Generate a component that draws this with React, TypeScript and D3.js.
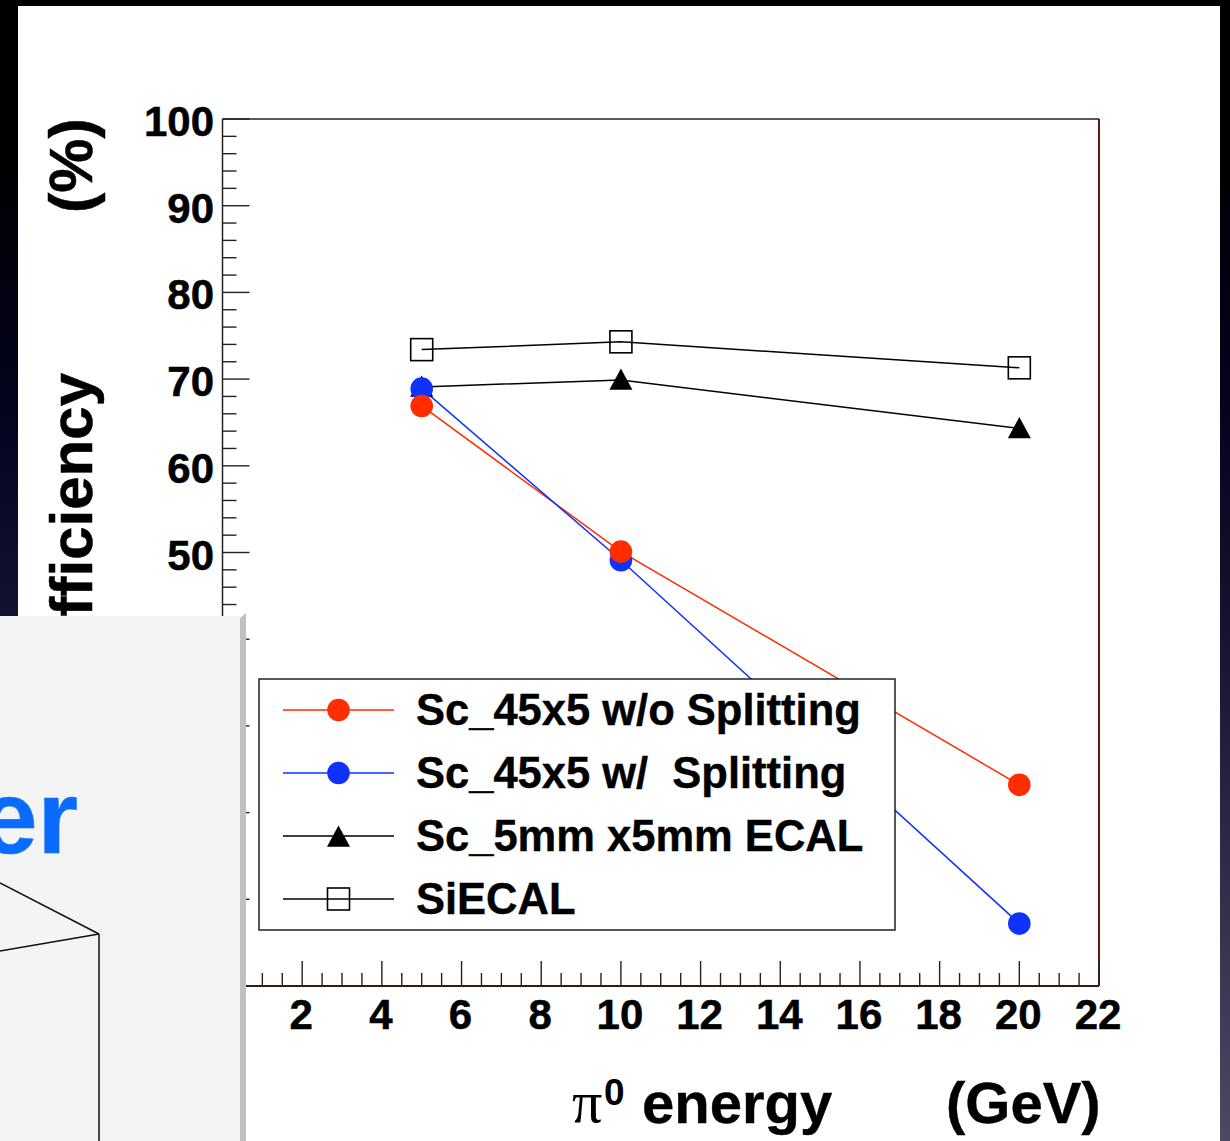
import React from "react";
import * as d3 from "d3";

const energies = [5, 10, 20];
const noSplit = [66.9, 50.1, 23.2];
const withSplit = [68.9, 49.1, 7.2];
const sc5mm = [69.1, 69.9, 64.3];
const siecal = [73.4, 74.3, 71.3];
const xTicks = [2, 4, 6, 8, 10, 12, 14, 16, 18, 20, 22];
const yTicks = [0, 10, 20, 30, 40, 50, 60, 70, 80, 90, 100];
const legendLabels = ["Sc_45x5 w/o Splitting", "Sc_45x5 w/  Splitting", "Sc_5mm x5mm ECAL", "SiECAL"];

const RED = "#ff2d00";
const BLUE = "#0f32ff";
const FONT = "'Liberation Sans', Arial, sans-serif";

const x = d3.scaleLinear().domain([0, 22]).range([222.5, 1099]);
const y = d3.scaleLinear().domain([0, 100]).range([986, 119]);

const line = d3
  .line<number>()
  .x((_, i) => x(energies[i]))
  .y((d) => y(d));

const triPath = (cx: number, cy: number, s = 11.5) =>
  `M${cx},${cy - s}L${cx + s},${cy + s * 0.85}L${cx - s},${cy + s * 0.85}Z`;

export default function App() {
  const xMinor = d3.range(0, 22.01, 0.5);
  const yMinor = d3.range(0, 100.01, 2);
  const legendY = [710, 773, 836, 899];
  const series = [
    { v: noSplit, c: RED, m: "c" },
    { v: withSplit, c: BLUE, m: "c" },
    { v: sc5mm, c: "#000", m: "t" },
    { v: siecal, c: "#000", m: "s" },
  ];
  const marker = (m: string, c: string, cx: number, cy: number, k: number) =>
    m === "c" ? (
      <circle key={k} cx={cx} cy={cy} r={11.3} fill={c} />
    ) : m === "t" ? (
      <path key={k} d={triPath(cx, cy)} fill="#000" />
    ) : (
      <rect key={k} x={cx - 11} y={cy - 11} width={22} height={22} fill="none" stroke="#000" strokeWidth={1.6} />
    );
  return (
    <svg
      width={1230}
      height={1141}
      viewBox="0 0 1230 1141"
      style={{ position: "absolute", left: 0, top: 0, display: "block" }}
      fontFamily={FONT}
    >
      <defs>
        <linearGradient id="bg" x1="0" y1="0" x2="0" y2="1">
          <stop offset="0" stopColor="#000000" />
          <stop offset="0.15" stopColor="#000004" />
          <stop offset="0.35" stopColor="#03031c" />
          <stop offset="0.55" stopColor="#141432" />
          <stop offset="0.75" stopColor="#2c2c4a" />
          <stop offset="1" stopColor="#4a4a62" />
        </linearGradient>
      </defs>
      <rect width={1230} height={1141} fill="url(#bg)" />
      <rect x={18} y={6} width={1202} height={1135} fill="#fff" />

      {/* axes */}
      <g stroke="#222" fill="none">
        <line x1={x(0)} x2={x(22)} y1={y(100)} y2={y(100)} strokeWidth={1.5} />
        <line x1={x(0)} x2={x(0)} y1={y(100)} y2={y(0)} strokeWidth={1.5} />
        <line x1={x(22)} x2={x(22)} y1={y(100)} y2={y(0)} strokeWidth={2} stroke="#5a1a0c" />
        <line x1={x(0)} x2={x(22)} y1={y(0)} y2={y(0)} strokeWidth={2} stroke="#3a1a12" />
        {yMinor.map((t) => (
          <line key={t} x1={x(0)} x2={x(0) + (t % 10 === 0 ? 27 : 14)} y1={y(t)} y2={y(t)} strokeWidth={1.4} />
        ))}
        {xMinor.map((t) => (
          <line key={t} x1={x(t)} x2={x(t)} y1={y(0)} y2={y(0) - (t % 2 === 0 ? 25 : 13)} strokeWidth={1.4} />
        ))}
      </g>
      <g fontSize={42} fontWeight="bold" fill="#000" stroke="#000" strokeWidth={0.5}>
        {yTicks.filter((t) => t >= 50).map((t) => (
          <text key={t} x={214} y={y(t) + 17} textAnchor="end">{t}</text>
        ))}
        {xTicks.map((t) => (
          <text key={t} x={x(t) - 1} y={1029} textAnchor="middle">{t}</text>
        ))}
      </g>

      {/* titles */}
      <text transform="translate(92,0) rotate(-90)" x={-213} fontSize={61} fontWeight="bold" stroke="#000" strokeWidth={0.5}>(%)</text>
      <text transform="translate(92,0) rotate(-90)" x={-373} textAnchor="end" fontSize={60} fontWeight="bold" stroke="#000" strokeWidth={0.5}>efficiency</text>
      <text x={572} y={1122} fontSize={60} fontFamily="'Liberation Serif', serif">π</text>
      <text x={604} y={1105} fontSize={37} fontWeight="bold">0</text>
      <text x={642} y={1123} fontSize={58} fontWeight="bold" stroke="#000" strokeWidth={0.4}>energy</text>
      <text x={946} y={1123} fontSize={58} fontWeight="bold" stroke="#000" strokeWidth={0.4}>(GeV)</text>

      {/* series */}
      {series.map((s, i) => (
        <g key={i}>
          <path d={line(s.v) ?? ""} fill="none" stroke={s.c} strokeWidth={1.5} />
        </g>
      ))}
      {[2, 3, 1, 0].map((i) => (
        <g key={i}>{series[i].v.map((v, k) => marker(series[i].m, series[i].c, x(energies[k]), y(v), k))}</g>
      ))}

      {/* legend */}
      <rect x={259} y={679} width={636} height={251} fill="#fff" stroke="#222" strokeWidth={1.5} />
      {series.map((s, i) => (
        <g key={i}>
          <line x1={283} x2={394} y1={legendY[i]} y2={legendY[i]} stroke={s.c} strokeWidth={1.5} />
          {marker(s.m, s.c, 338.5, legendY[i] + (s.m === "t" ? 1 : 0), i)}
          <text x={416} y={legendY[i] + 15} fontSize={43.5} fontWeight="bold" stroke="#000" strokeWidth={0.4} xmlSpace="preserve">{legendLabels[i]}</text>
        </g>
      ))}

      {/* overlapping slide panel */}
      <rect x={0} y={616} width={240} height={525} fill="#f4f4f4" />
      <path d="M240,618L246,613L246,1141L240,1141Z" fill="#c0c0c0" />
      <text x={78} y={853} textAnchor="end" fontSize={104} fontWeight="bold" fill="#0a6cff" stroke="#0a6cff" strokeWidth={0.5}>er</text>
      <g fill="none" stroke="#111" strokeWidth={1.5}>
        <line x1={0} y1={883} x2={99} y2={934} />
        <line x1={0} y1={951} x2={99} y2={934} />
        <line x1={99} y1={934} x2={99} y2={1141} />
      </g>
    </svg>
  );
}
